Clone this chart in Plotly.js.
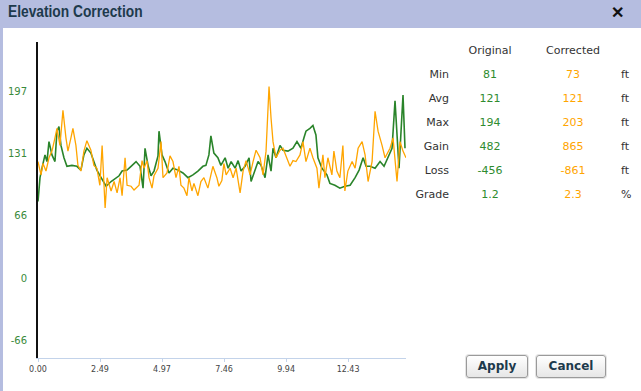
<!DOCTYPE html>
<html>
<head>
<meta charset="utf-8">
<script src="https://cdn.plot.ly/plotly-3.0.1.min.js"></script>
<style>
  html, body { margin:0; padding:0; width:641px; height:391px; overflow:hidden; background:#fff; font-family:"DejaVu Sans", Verdana, sans-serif; }
  #titlebar { position:absolute; left:0; top:0; width:641px; height:28px; background:#b5bde0; z-index:5; }
  #titlebar .t { position:absolute; left:8px; top:3px; font-family:"Liberation Sans",sans-serif; font-weight:bold; font-size:16px; color:#1d3a4c; transform:scaleX(0.86); transform-origin:0 0; }
  #titlebar .x { position:absolute; left:611px; top:3px; font-family:"Liberation Sans",sans-serif; font-weight:bold; font-size:16px; color:#111; }
  #leftbar { position:absolute; left:0; top:28px; width:3px; height:363px; background:#b5bde0; z-index:5; }
  #chart { position:absolute; left:0; top:0; width:641px; height:391px; }
  .cell { position:absolute; font-size:11px; line-height:14px; white-space:nowrap; z-index:6; }
  .hdr { color:#333; transform:translateX(-50%); }
  .lab { color:#333; transform:translateX(-100%); }
  .vo { color:#2e8b2e; transform:translateX(-50%); }
  .vc { color:#ffa500; transform:translateX(-50%); }
  .unit { color:#333; }
  .btn { position:absolute; height:21px; border:1px solid #9a9a9a; border-radius:3px; background:linear-gradient(#ffffff,#e6e6e6); font-weight:bold; font-size:12px; color:#1d3a4c; text-align:center; line-height:21px; z-index:6; box-shadow:0 0 0 1px #e4e4e4; }
</style>
</head>
<body>
<div id="chart"></div>
<div id="titlebar"><span class="t">Elevation Correction</span><span class="x">✕</span></div>
<div id="leftbar"></div>
<div id="table"></div>
<div class="btn" style="left:466px; top:355px; width:60px;">Apply</div>
<div class="btn" style="left:536px; top:355px; width:68px;">Cancel</div>
<script>
// Original elevation profile (distance, elevation ft)
const distOrig = [0,0.08,0.16,0.28,0.36,0.44,0.56,0.68,0.76,0.84,0.92,1.04,1.16,1.36,1.56,1.72,1.84,1.96,2.12,2.24,2.36,2.53,2.73,2.93,3.13,3.25,3.37,3.57,3.73,3.93,4.09,4.21,4.29,4.41,4.53,4.65,4.81,4.85,4.97,5.09,5.25,5.41,5.61,5.81,6.01,6.21,6.41,6.61,6.73,6.85,6.93,7.05,7.21,7.33,7.50,7.62,7.74,7.90,8.02,8.14,8.30,8.46,8.54,8.70,8.82,8.94,9.10,9.22,9.34,9.42,9.54,9.70,9.82,10.02,10.22,10.38,10.54,10.66,10.74,10.90,11.02,11.14,11.22,11.38,11.58,11.70,11.90,12.10,12.30,12.51,12.71,12.87,13.03,13.15,13.31,13.51,13.71,13.87,14.03,14.19,14.31,14.39,14.47,14.63,14.71];
const elevOrig = [81,106,116,130,123,144,130,123,155,160,140,127,118,119,118,114,130,137,132,123,114,106,97,102,106,108,113,114,118,123,118,95,137,119,108,113,129,155,130,123,111,116,114,111,106,109,113,118,119,130,150,132,127,119,127,116,123,116,124,113,118,127,102,114,123,119,106,130,113,137,127,140,135,134,137,144,137,148,155,158,161,151,127,116,109,100,98,95,97,98,106,114,127,118,118,116,123,118,127,137,187,144,116,193,137];
// Corrected elevation profile
const distCorr = [0,0.12,0.20,0.32,0.44,0.56,0.68,0.76,0.88,1.00,1.12,1.20,1.32,1.40,1.52,1.60,1.72,1.84,1.96,2.12,2.24,2.36,2.48,2.57,2.69,2.77,2.93,3.05,3.17,3.29,3.37,3.49,3.57,3.73,3.85,4.05,4.17,4.25,4.37,4.45,4.57,4.65,4.81,4.93,5.01,5.17,5.29,5.41,5.53,5.65,5.73,5.85,5.97,6.05,6.17,6.25,6.41,6.53,6.65,6.81,6.93,7.01,7.17,7.25,7.37,7.45,7.54,7.70,7.82,7.94,8.10,8.22,8.34,8.50,8.62,8.74,8.90,9.02,9.14,9.22,9.26,9.34,9.42,9.54,9.70,9.82,9.94,10.10,10.22,10.34,10.50,10.62,10.74,10.90,11.02,11.18,11.26,11.42,11.50,11.62,11.78,11.86,11.98,12.10,12.22,12.30,12.42,12.59,12.71,12.83,12.99,13.11,13.23,13.39,13.51,13.63,13.79,13.91,14.11,14.23,14.39,14.51,14.63,14.75];
const elevCorr = [123,109,121,113,127,134,148,158,140,177,148,134,148,158,140,119,113,134,145,135,119,116,98,140,74,106,92,102,90,106,87,127,98,97,93,98,124,116,124,106,95,108,116,144,106,111,129,123,106,118,98,95,87,106,92,100,87,102,106,95,109,118,106,97,103,121,109,116,106,116,90,113,124,109,123,135,127,109,134,176,202,169,144,127,135,137,129,118,124,123,130,144,123,137,127,116,95,130,106,127,109,134,113,106,140,92,113,123,116,137,144,130,102,123,176,155,140,127,137,148,102,144,134,127];
// Axis ticks
const xTickVals = [0,2.486,4.971,7.457,9.943,12.429];
const xTickText = ["0.00","2.49","4.97","7.46","9.94","12.43"];
const yTickVals = [-65.67,0,65.67,131.33,197];
const yTickText = ["-66","0","66","131","197"];
// Summary table
const statLabels = ["Min","Avg","Max","Gain","Loss","Grade"];
const statOrig = ["81","121","194","482","-456","1.2"];
const statCorr = ["73","121","203","865","-861","2.3"];
const statUnits = ["ft","ft","ft","ft","ft","%"];

const traces = [
  {x:distOrig, y:elevOrig, mode:'lines', line:{color:'#2a842a', width:1.6}, hoverinfo:'skip'},
  {x:distCorr, y:elevCorr, mode:'lines', line:{color:'#ffa500', width:1.3}, hoverinfo:'skip'}
];
const layout = {
  width:641, height:391,
  margin:{l:38, r:235, t:42, b:33},
  paper_bgcolor:'rgba(0,0,0,0)', plot_bgcolor:'#fff',
  showlegend:false,
  font:{family:'"DejaVu Sans", Verdana, sans-serif'},
  xaxis:{range:[0,14.75], showgrid:false, zeroline:false, showline:true, linecolor:'#c3d3ea', linewidth:1,
         ticks:'outside', ticklen:3, tickcolor:'#c3d3ea', tickvals:xTickVals, ticktext:xTickText,
         tickfont:{size:8, color:'#444'}, fixedrange:true},
  yaxis:{range:[-84,249], showgrid:false, zeroline:false, showline:true, linecolor:'#111', linewidth:2,
         ticks:'', tickvals:yTickVals, ticktext:yTickText, ticklabelstandoff:7,
         tickfont:{size:10, color:'#3a8a3a'}, fixedrange:true}
};
Plotly.newPlot('chart', traces, layout, {displayModeBar:false, staticPlot:true});

// table
const tbl = document.getElementById('table');
function add(cls, txt, left, top){ const d=document.createElement('div'); d.className='cell '+cls; d.textContent=txt; d.style.left=left+'px'; d.style.top=top+'px'; tbl.appendChild(d); }
add('hdr','Original',490,44);
add('hdr','Corrected',573,44);
statLabels.forEach((s,i)=>{
  const top = 68 + i*24;
  add('lab', s, 449, top);
  add('vo', statOrig[i], 490, top);
  add('vc', statCorr[i], 573, top);
  add('unit', statUnits[i], 621, top);
});
</script>
</body>
</html>
